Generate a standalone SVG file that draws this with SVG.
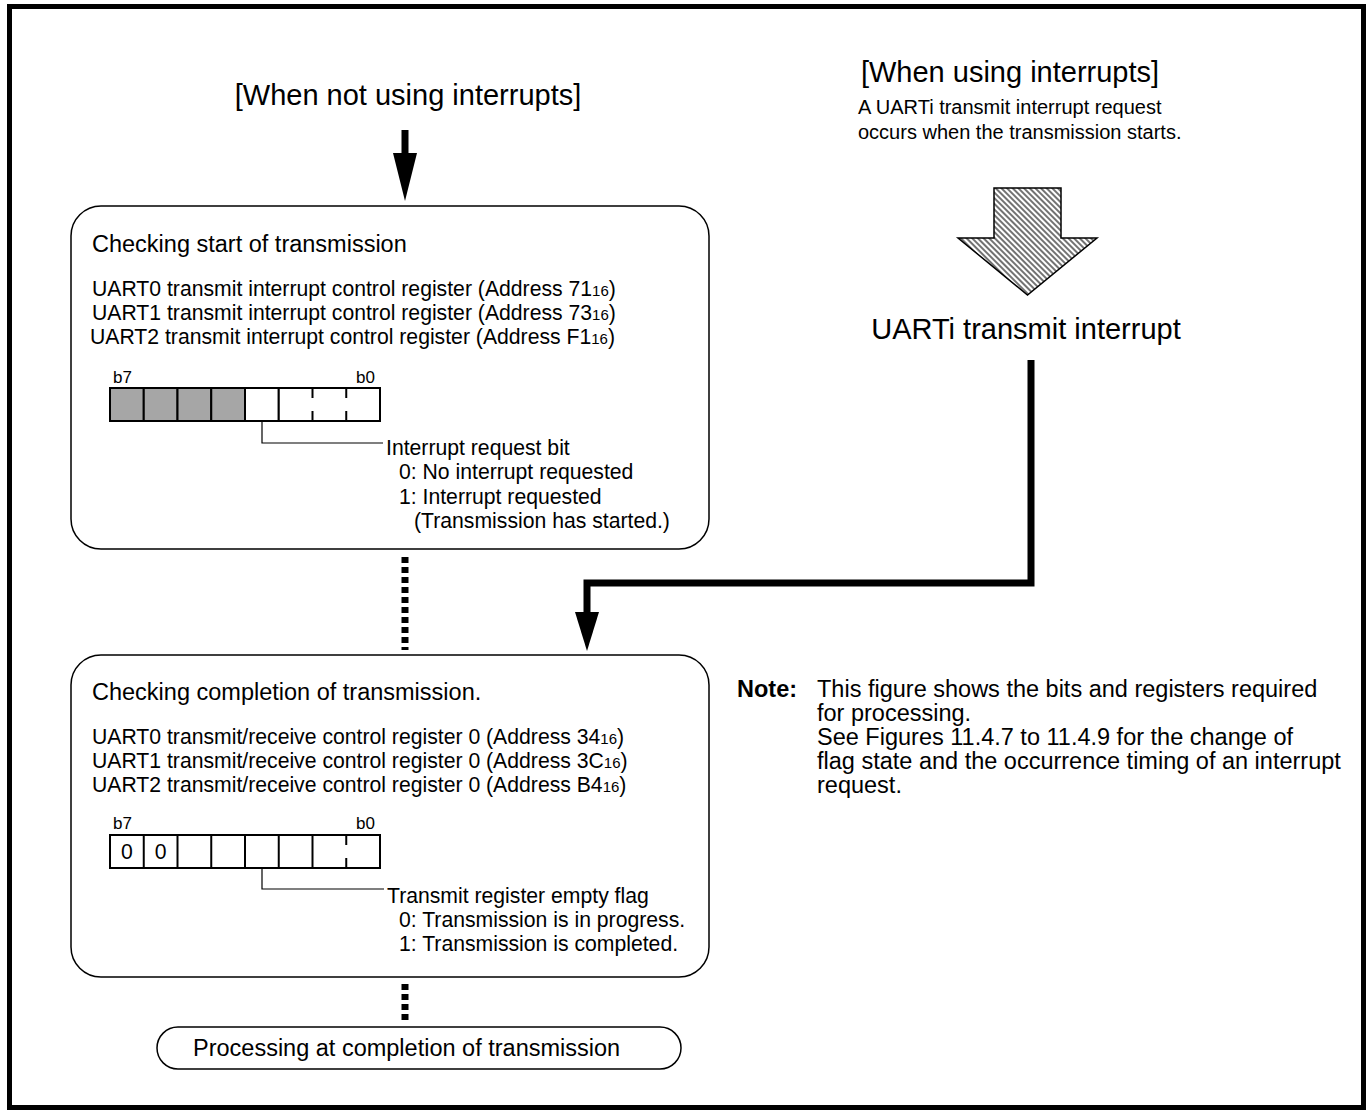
<svg xmlns="http://www.w3.org/2000/svg" width="1369" height="1110" viewBox="0 0 1369 1110">
<defs>
<style>
text{font-family:"Liberation Sans",Arial,Helvetica,sans-serif;fill:#000}
.title{font-size:29px}
.head{font-size:23.5px}
.reg{font-size:21.2px}
.bit{font-size:17px}
.note{font-size:23.5px}
.mid{font-size:20px}
.box{fill:#fff;stroke:#000;stroke-width:1.5}
.cell{fill:#fff;stroke:#000;stroke-width:2}
.gray{fill:#a6a6a6;stroke:#000;stroke-width:2}
.div{stroke:#000;stroke-width:2}
.lead{fill:none;stroke:#000;stroke-width:1.2}
.thick{fill:none;stroke:#000;stroke-width:7;stroke-linejoin:miter}
.dots{fill:none;stroke:#000;stroke-width:7;stroke-dasharray:6 4}
.head-fill{fill:#000}
</style>
<pattern id="hatch" patternUnits="userSpaceOnUse" width="4" height="4" patternTransform="rotate(45)">
<rect width="4" height="4" fill="#fff"/>
<line x1="0" y1="1" x2="4" y2="1" stroke="#000" stroke-width="1.1"/>
</pattern>
</defs>

<rect x="9.5" y="6.5" width="1354" height="1101" fill="none" stroke="#000" stroke-width="5"/>

<g id="title-left">
<text class="title" x="408" y="105" text-anchor="middle">[When not using interrupts]</text>
</g>

<g id="title-right">
<text class="title" x="1010" y="82" text-anchor="middle">[When using interrupts]</text>
<text class="mid" x="858" y="114">A UARTi transmit interrupt request</text>
<text class="mid" x="858" y="139">occurs when the transmission starts.</text>
</g>

<g id="hatched-arrow">
<polygon points="994,188 1061,188 1061,238 1097,238 1027.5,295 958,238 994,238" fill="url(#hatch)" stroke="#000" stroke-width="1.5"/>
</g>

<g id="uarti-interrupt">
<text x="1026" y="339" text-anchor="middle" style="font-size:29px">UARTi transmit interrupt</text>
</g>

<g id="check-start">
<rect class="box" x="71" y="206" width="638" height="343" rx="30" ry="30"/>
<text class="head" x="92" y="252">Checking start of transmission</text>
<text class="reg" x="92" y="296">UART0 transmit interrupt control register (Address 71<tspan font-size="15">16</tspan>)</text>
<text class="reg" x="92" y="320">UART1 transmit interrupt control register (Address 73<tspan font-size="15">16</tspan>)</text>
<text class="reg" x="90" y="344">UART2 transmit interrupt control register (Address F1<tspan font-size="15">16</tspan>)</text>
<text class="bit" x="113" y="383">b7</text>
<text class="bit" x="375" y="383" text-anchor="end">b0</text>
<rect class="gray" x="110" y="388" width="33.75" height="33"/>
<rect class="gray" x="143.75" y="388" width="33.75" height="33"/>
<rect class="gray" x="177.5" y="388" width="33.75" height="33"/>
<rect class="gray" x="211.25" y="388" width="33.75" height="33"/>
<rect class="cell" x="245" y="388" width="33.75" height="33"/>
<rect class="cell" x="278.75" y="388" width="101.25" height="33"/>
<line class="div" x1="312.5" y1="388" x2="312.5" y2="398"/>
<line class="div" x1="312.5" y1="411" x2="312.5" y2="421"/>
<line class="div" x1="346.25" y1="388" x2="346.25" y2="398"/>
<line class="div" x1="346.25" y1="411" x2="346.25" y2="421"/>
<path class="lead" d="M262,421 V443 H383"/>
<text class="reg" x="386" y="455">Interrupt request bit</text>
<text class="reg" x="399" y="479">0: No interrupt requested</text>
<text class="reg" x="399" y="504">1: Interrupt requested</text>
<text class="reg" x="414" y="528">(Transmission has started.)</text>
</g>

<g id="check-complete">
<rect class="box" x="71" y="655" width="638" height="322" rx="30" ry="30"/>
<text class="head" x="92" y="700">Checking completion of transmission.</text>
<text class="reg" x="92" y="744">UART0 transmit/receive control register 0 (Address 34<tspan font-size="15">16</tspan>)</text>
<text class="reg" x="92" y="768">UART1 transmit/receive control register 0 (Address 3C<tspan font-size="15">16</tspan>)</text>
<text class="reg" x="92" y="792">UART2 transmit/receive control register 0 (Address B4<tspan font-size="15">16</tspan>)</text>
<text class="bit" x="113" y="829">b7</text>
<text class="bit" x="375" y="829" text-anchor="end">b0</text>
<rect class="cell" x="110" y="835" width="270" height="33"/>
<line class="div" x1="143.75" y1="835" x2="143.75" y2="868"/>
<line class="div" x1="177.5" y1="835" x2="177.5" y2="868"/>
<line class="div" x1="211.25" y1="835" x2="211.25" y2="868"/>
<line class="div" x1="245" y1="835" x2="245" y2="868"/>
<line class="div" x1="278.75" y1="835" x2="278.75" y2="868"/>
<line class="div" x1="312.5" y1="835" x2="312.5" y2="868"/>
<line class="div" x1="346.25" y1="835" x2="346.25" y2="845"/>
<line class="div" x1="346.25" y1="858" x2="346.25" y2="868"/>
<text class="reg" x="126.9" y="859" text-anchor="middle">0</text>
<text class="reg" x="160.6" y="859" text-anchor="middle">0</text>
<path class="lead" d="M262,868 V889 H384"/>
<text class="reg" x="387" y="903">Transmit register empty flag</text>
<text class="reg" x="399" y="927">0: Transmission is in progress.</text>
<text class="reg" x="399" y="951">1: Transmission is completed.</text>
</g>

<g id="process-complete">
<rect class="box" x="157" y="1027" width="524" height="42" rx="21" ry="21"/>
<text class="head" x="193" y="1056">Processing at completion of transmission</text>
</g>

<g id="note">
<text class="note" x="737" y="697" font-weight="bold">Note:</text>
<text class="note" x="817" y="697">This figure shows the bits and registers required</text>
<text class="note" x="817" y="721">for processing.</text>
<text class="note" x="817" y="745">See Figures 11.4.7 to 11.4.9 for the change of</text>
<text class="note" x="817" y="769">flag state and the occurrence timing of an interrupt</text>
<text class="note" x="817" y="793">request.</text>
</g>

<g id="connectors">
<line class="thick" x1="405" y1="130" x2="405" y2="155"/>
<polygon class="head-fill" points="393,153 417,153 405,201"/>
<path class="thick" d="M1031,360 V583 H587 V614"/>
<polygon class="head-fill" points="575,612 599,612 587,651"/>
<path class="dots" d="M405,557 V650"/>
<path class="dots" d="M405,984 V1024"/>
</g>
</svg>
